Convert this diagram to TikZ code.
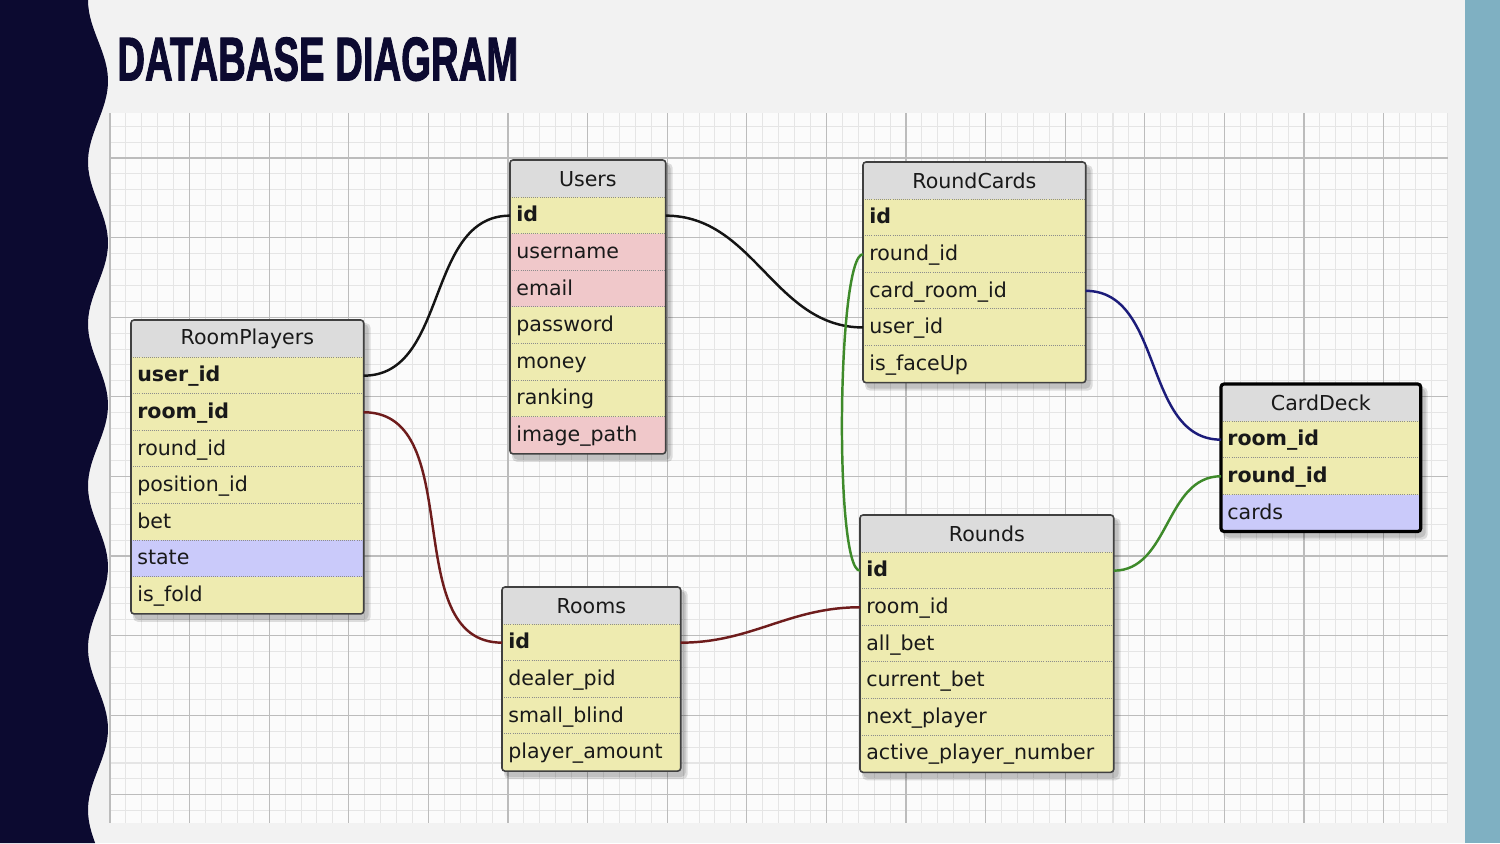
\documentclass[tikz,border=0pt]{standalone}
\usepackage{fontspec}
\usetikzlibrary{positioning,fit}
\setmainfont{DejaVu Sans}
\newfontfamily\headfont{Liberation Sans}[BoldFeatures={FakeBold=2}]
\newcommand{\tblfnt}{\fontsize{11.7}{13}\selectfont}

\definecolor{slidebg}{RGB}{242,242,242}
\definecolor{navy}{RGB}{12,10,48}
\definecolor{sideblue}{RGB}{127,176,194}
\definecolor{paper}{RGB}{251,251,251}
\definecolor{minorgrid}{RGB}{229,229,229}
\definecolor{majorgrid}{RGB}{188,188,188}
\definecolor{headgray}{RGB}{220,220,220}
\definecolor{fldyellow}{RGB}{238,235,176}
\definecolor{fldpink}{RGB}{240,200,202}
\definecolor{fldlav}{RGB}{202,202,250}
\definecolor{relblack}{RGB}{20,20,20}
\definecolor{relred}{RGB}{110,28,28}
\definecolor{relblue}{RGB}{28,28,122}
\definecolor{relgreen}{RGB}{62,138,42}

\pgfdeclarelayer{back}
\pgfdeclarelayer{shade}
\pgfsetlayers{back,shade,main}

\tikzset{
  tblhead/.style={fill=headgray, anchor=north west, minimum height=0.74cm, inner sep=0pt, font=\tblfnt, text=black!90},
  fld/.style={fill=fldyellow, anchor=north west, minimum height=0.732cm, inner xsep=0.12cm, inner ysep=0pt,
    text height=0.92em, text depth=0.22em, align=left, font=\tblfnt, text=black!90},
  pk/.style={fld, font=\tblfnt\bfseries},
  nk/.style={fld},
  pinkfld/.style={fld, fill=fldpink},
  lavfld/.style={fld, fill=fldlav},
  tblframe/.style={draw=black!75, line width=0.9pt, rounded corners=0.06cm},
  tblshade/.style={fill=black, opacity=0.12, rounded corners=0.1cm},
  sep/.style={black!45, line width=0.5pt, dash pattern=on 0.5pt off 0.7pt},
  rel/.style={line width=1.4pt},
}

% table: name, x, y, width (px), title, fields
\newcommand{\dbtable}[6]{%
  \pgfmathsetmacro\tblw{#4*0.02}
  \pgfmathsetmacro\txtw{#4*0.02-0.24}
  \node[tblhead, minimum width=\tblw cm] (#1) at (#2,#3) {#5};
  \foreach \s/\f [count=\i] in {#6} {
    \node[\s, text width=\txtw cm] (#1-\i) at ({#2},{#3+37+36.6*(\i-1)}) {\f};
    \xdef\nrows{\i}
  }
  \foreach \j in {1,...,\nrows}
    \draw[sep] (#1-\j.north west) -- (#1-\j.north east);
  \begin{pgfonlayer}{shade}
    \fill[tblshade] ([shift={(2,3)}]#1.north west) rectangle ([shift={(7,8)}]#1-\nrows.south east);
    \fill[tblshade] ([shift={(3,4)}]#1.north west) rectangle ([shift={(5,6)}]#1-\nrows.south east);
  \end{pgfonlayer}
  \draw[tblframe] (#1.north west) rectangle (#1-\nrows.south east);
}

\begin{document}
\begin{tikzpicture}[x=0.02cm, y=-0.02cm]
  \useasboundingbox (0,0) rectangle (1500,843);

  \begin{pgfonlayer}{back}
    \fill[slidebg] (0,0) rectangle (1500,843);
    \fill[sideblue] (1465,0) rectangle (1500,843);
    \fill[navy] (0,0) -- plot[domain=0:843, samples=150, variable=\t] ({98-10*cos(2.2222*\t)},\t) -- (0,843) -- cycle;
    % grid paper
    \fill[paper] (110,113) rectangle (1448,823);
    \foreach \i in {0,...,84}
      \draw[minorgrid, line width=0.6pt] ({110+15.92*\i},113) -- ({110+15.92*\i},823);
    \foreach \j in {-2,...,41}
      \draw[minorgrid, line width=0.6pt] (110,{158+15.92*\j}) -- (1448,{158+15.92*\j});
    \foreach \i in {0,...,16}
      \draw[majorgrid, line width=0.7pt] ({110+79.6*\i},113) -- ({110+79.6*\i},823);
    \foreach \j in {0,...,8}
      \draw[majorgrid, line width=0.7pt] (110,{158+79.6*\j}) -- (1448,{158+79.6*\j});
  \end{pgfonlayer}

  \node[anchor=north west, inner sep=0pt, text=navy] (title) at (117,37)
    {\resizebox{8.02cm}{0.86cm}{\headfont\bfseries DATABASE DIAGRAM}};

  \dbtable{users}{510}{160}{155}{Users}{pk/id, pinkfld/username, pinkfld/email, nk/password, nk/money, nk/ranking, pinkfld/image\_path}
  \dbtable{rp}{131}{320}{232}{RoomPlayers}{pk/user\_id, pk/room\_id, nk/round\_id, nk/position\_id, nk/bet, lavfld/state, nk/is\_fold}
  \dbtable{rooms}{502}{587}{178}{Rooms}{pk/id, nk/dealer\_pid, nk/small\_blind, nk/player\_amount}
  \dbtable{rc}{863}{162}{222}{RoundCards}{pk/id, nk/round\_id, nk/card\_room\_id, nk/user\_id, nk/is\_faceUp}
  \dbtable{rd}{860}{515}{253}{Rounds}{pk/id, nk/room\_id, nk/all\_bet, nk/current\_bet, nk/next\_player, nk/active\_player\_number}
  \dbtable{cd}{1221}{384}{199}{CardDeck}{pk/room\_id, pk/round\_id, lavfld/cards}
  \draw[tblframe, draw=black, line width=1.8pt] (cd.north west) rectangle (cd-3.south east);

  % relations
  \draw[rel, relblack] (rp-1.east) to[out=0,in=180] (users-1.west);
  \draw[rel, relblack] (users-1.east) to[out=0,in=180] (rc-4.west);
  \draw[rel, relred] (rp-2.east) to[out=0,in=180] (rooms-1.west);
  \draw[rel, relred] (rooms-1.east) to[out=0,in=180] (rd-2.west);
  \draw[rel, relblue] (rc-3.east) to[out=0,in=180] (cd-1.west);
  \draw[rel, relgreen] (rd-1.east) to[out=0,in=180] (cd-2.west);
  \draw[rel, relgreen] (rc-2.west) .. controls +(-26,0) and +(-26,0) .. (rd-1.west);
\end{tikzpicture}
\end{document}
